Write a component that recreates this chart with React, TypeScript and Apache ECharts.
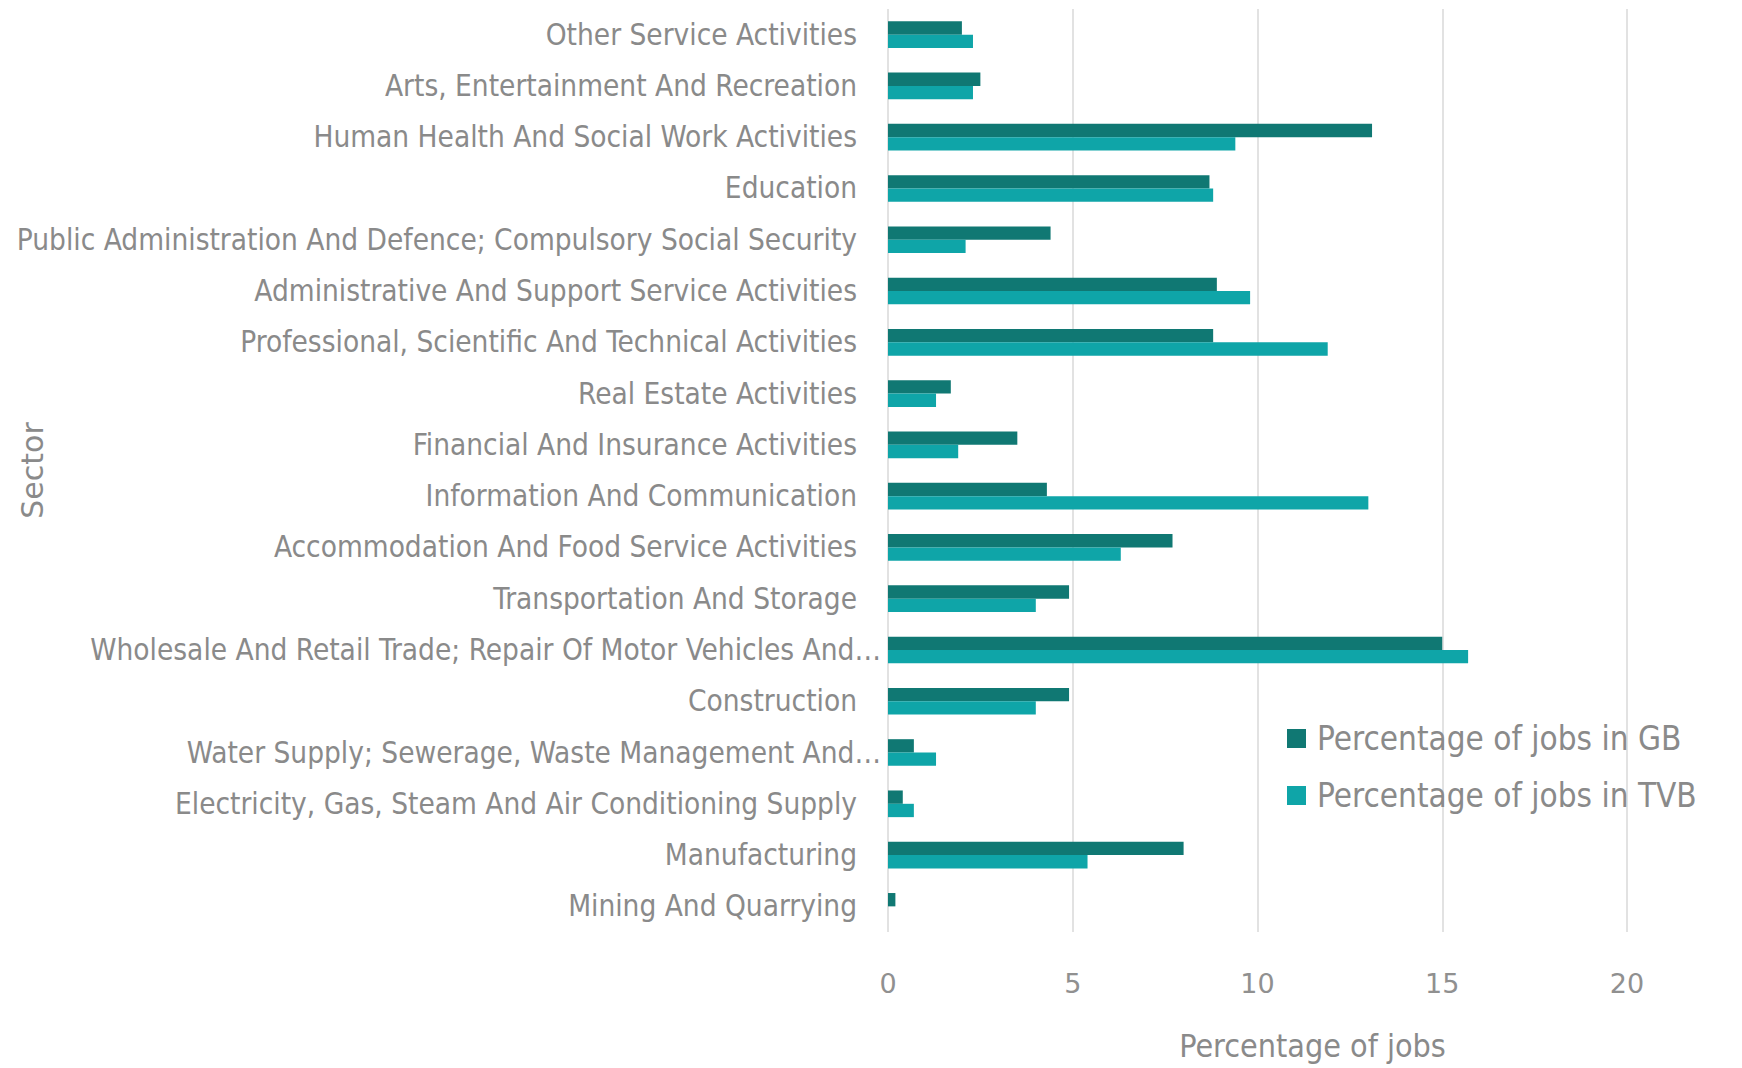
import React, { useEffect, useRef } from "react";
import * as echarts from "echarts";

const categories = [
  "Other Service Activities",
  "Arts, Entertainment And Recreation",
  "Human Health And Social Work Activities",
  "Education",
  "Public Administration And Defence; Compulsory Social Security",
  "Administrative And Support Service Activities",
  "Professional, Scientific And Technical Activities",
  "Real Estate Activities",
  "Financial And Insurance Activities",
  "Information And Communication",
  "Accommodation And Food Service Activities",
  "Transportation And Storage",
  "Wholesale And Retail Trade; Repair Of Motor Vehicles And…",
  "Construction",
  "Water Supply; Sewerage, Waste Management And…",
  "Electricity, Gas, Steam And Air Conditioning Supply",
  "Manufacturing",
  "Mining And Quarrying",
];

const gbValues = [2.0, 2.5, 13.1, 8.7, 4.4, 8.9, 8.8, 1.7, 3.5, 4.3, 7.7, 4.9, 15.0, 4.9, 0.7, 0.4, 8.0, 0.2];
const tvbValues = [2.3, 2.3, 9.4, 8.8, 2.1, 9.8, 11.9, 1.3, 1.9, 13.0, 6.3, 4.0, 15.7, 4.0, 1.3, 0.7, 5.4, 0];

const seriesNames = ["Percentage of jobs in GB", "Percentage of jobs in TVB"];
const seriesColors = ["#107873", "#0fa5a8"];
const xMin = 0;
const xMax = 20;
const xInterval = 5;

const NARROW = "'Liberation Sans Narrow', 'DejaVu Sans Condensed', 'Arial Narrow', sans-serif";
const WIDE = "'DejaVu Sans', 'Open Sans', sans-serif";
const TEXT = "#8a8a8a";

export default function App() {
  const ref = useRef<HTMLDivElement>(null);
  useEffect(() => {
    if (!ref.current) return;
    const chart = echarts.init(ref.current, null, { renderer: "svg" });
    const labelStyle = { fontFamily: NARROW, fontSize: 29.5, color: TEXT };
    chart.setOption({
      animation: false,
      backgroundColor: "#ffffff",
      grid: {
        left: 888,
        right: 115,
        top: 9,
        bottom: 136,
        containLabel: false,
        outerBoundsMode: "none",
      },
      legend: {
        data: seriesNames,
        orient: "vertical",
        left: 1282,
        top: 717,
        itemWidth: 19,
        itemHeight: 19,
        itemGap: 24,
        icon: "rect",
        textStyle: { fontFamily: NARROW, fontSize: 33, color: TEXT, padding: [0, 0, 0, 6] },
      },
      xAxis: {
        type: "value",
        min: xMin,
        max: xMax,
        interval: xInterval,
        axisLine: { show: false },
        axisTick: { show: false },
        axisLabel: { fontFamily: WIDE, fontSize: 27, color: "#909090", margin: 38 },
        splitLine: { show: true, lineStyle: { color: "#d9d9d9", width: 1.5 } },
        name: "Percentage of jobs",
        nameLocation: "middle",
        nameGap: 97,
        nameMoveOverlap: false,
        nameTextStyle: {
          fontFamily: NARROW,
          fontSize: 32,
          lineHeight: 34,
          color: TEXT,
          verticalAlign: "top",
          padding: [0, 0, 0, 110],
        },
      },
      yAxis: {
        type: "category",
        data: categories,
        inverse: true,
        axisLine: { show: false },
        axisTick: { show: false },
        axisLabel: {
          margin: 7,
          formatter: (v: string) => (v.endsWith("…") ? `{e|${v}}` : `{n|${v}}`),
          rich: {
            n: { ...labelStyle, padding: [0, 24, 0, 0] },
            e: { ...labelStyle },
          },
        },
        name: "Sector",
        nameLocation: "middle",
        nameGap: 841,
        nameRotate: 90,
        nameMoveOverlap: false,
        nameTextStyle: { fontFamily: WIDE, fontSize: 30, color: TEXT },
      },
      series: [
        {
          name: seriesNames[0],
          type: "bar",
          data: gbValues,
          itemStyle: { color: seriesColors[0] },
          barGap: "0%",
          barCategoryGap: "48%",
        },
        {
          name: seriesNames[1],
          type: "bar",
          data: tvbValues,
          itemStyle: { color: seriesColors[1] },
          barGap: "0%",
          barCategoryGap: "48%",
        },
      ],
    });
    return () => chart.dispose();
  }, []);
  return (
    <div
      ref={ref}
      style={{ position: "fixed", left: 0, top: 0, width: 1742, height: 1068, background: "#fff" }}
    />
  );
}
